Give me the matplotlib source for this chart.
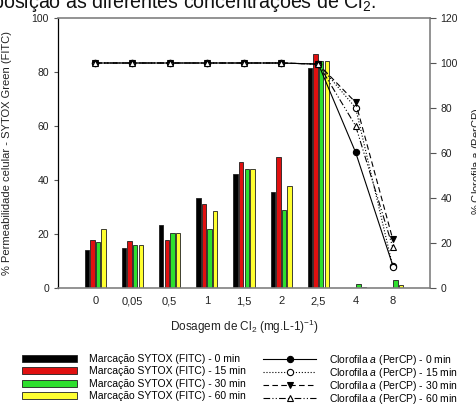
import matplotlib
matplotlib.use("Agg")
import matplotlib.pyplot as plt
import numpy as np
from matplotlib.patches import Patch

plt.rcParams['font.family'] = ['Liberation Sans', 'DejaVu Sans']
plt.rcParams['mathtext.fontset'] = 'custom'
plt.rcParams['mathtext.rm'] = 'Liberation Sans'
plt.rcParams['mathtext.it'] = 'Liberation Sans:italic'

categories = ['0', '0,05', '0,5', '1', '1,5', '2', '2,5', '4', '8']

sytox_0 = [14.2, 14.8, 23.3, 33.2, 42.1, 35.7, 81.4, 0.0, 0.0]
sytox_15 = [17.6, 17.3, 17.7, 31.1, 46.7, 48.6, 86.7, 0.0, 0.0]
sytox_30 = [17.0, 16.0, 20.5, 21.7, 44.1, 28.9, 84.2, 1.3, 3.1]
sytox_60 = [22.0, 16.0, 20.5, 28.5, 44.1, 37.9, 84.2, 0.3, 1.1]

chl_0 = [100, 100, 100, 100, 100, 100, 99.5, 60.3, 10.0]
chl_15 = [100, 100, 100, 100, 100, 100, 99.5, 80.1, 9.5]
chl_30 = [100, 100, 100, 100, 100, 100, 99.5, 82.5, 21.6]
chl_60 = [100, 100, 100, 100, 100, 100, 99.5, 72.1, 18.1]

bar_labels = ['Marcação SYTOX (FITC) - 0 min', 'Marcação SYTOX (FITC) - 15 min',
              'Marcação SYTOX (FITC) - 30 min', 'Marcação SYTOX (FITC) - 60 min']
line_labels = [r'Clorofila $\mathit{a}$ (PerCP) - 0 min', r'Clorofila $\mathit{a}$ (PerCP) - 15 min',
               r'Clorofila $\mathit{a}$ (PerCP) - 30 min', r'Clorofila $\mathit{a}$ (PerCP) - 60 min']

bar_colors = ['#000000', '#e01010', '#2ee02e', '#ffff30']

W, H = 476, 405
fig = plt.figure(figsize=(W / 100, H / 100), dpi=100)
ax = fig.add_axes([58 / W, 1 - 288 / H, (430 - 58) / W, (288 - 18) / H])

x = np.arange(len(categories))
width = 0.12
offsets = [-0.225, -0.075, 0.075, 0.225]
for vals, off, col, lab in zip([sytox_0, sytox_15, sytox_30, sytox_60], offsets, bar_colors, bar_labels):
    ax.bar(x + off, vals, width=width, color=col, edgecolor='#202020', linewidth=0.6, label=lab)

ax.set_xlim(-1, 9)
ax.set_ylim(0, 100)
ax.set_yticks([0, 20, 40, 60, 80, 100])
ax.set_xticks(x)
ax.set_xticklabels(categories)
ax.tick_params(axis='x', length=0, labelsize=8, pad=6, colors='#222222')
ax.tick_params(axis='y', length=3, width=0.8, color='#555555', labelsize=7.5, labelcolor='#222222')
ax.spines['left'].set_color('#000000')
ax.spines['left'].set_linewidth(0.9)
for s in ['top', 'right', 'bottom']:
    ax.spines[s].set_color('#808080')
    ax.spines[s].set_linewidth(1.2)

ax.set_ylabel('% Permeabilidade celular - SYTOX Green (FITC)', fontsize=8, color='#222222')
ax.yaxis.set_label_coords(-(58 - 12) / (430 - 58), 0.5)
ax.set_xlabel(r'Dosagem de Cl$_2$ (mg.L-1)$^{-1}$)', fontsize=8.5, color='#222222', labelpad=8)

ax2 = ax.twinx()
ax2.set_ylim(0, 120)
ax2.set_yticks([0, 20, 40, 60, 80, 100, 120])
ax2.tick_params(axis='y', length=4, width=0.8, color='#555555', labelsize=7.5, labelcolor='#222222')
for s in ['top', 'right', 'bottom', 'left']:
    ax2.spines[s].set_visible(False)

styles = [
    dict(linestyle='-', marker='o', markerfacecolor='black'),
    dict(linestyle=':', marker='o', markerfacecolor='white'),
    dict(linestyle=(0, (5, 3)), marker='v', markerfacecolor='black'),
    dict(linestyle=(0, (6, 2, 1, 2, 1, 2)), marker='^', markerfacecolor='white'),
]
lines = []
for vals, st, lab in zip([chl_0, chl_15, chl_30, chl_60], styles, line_labels):
    l, = ax2.plot(x, vals, color='black', linewidth=0.8, markersize=4.5,
                  markeredgecolor='black', markeredgewidth=0.8, label=lab, **st)
    lines.append(l)

ax2.set_ylabel(r'% Clorofila $\mathit{a}$ (PerCP)', fontsize=8, color='#222222')
ax2.yaxis.set_label_coords(1 + (470 - 430) / (430 - 58), 0.47)

# legends (two columns as separate legends so rows align)
bar_handles = [Patch(facecolor=c, edgecolor='#202020', linewidth=0.6) for c in bar_colors]
fig.legend(bar_handles, bar_labels, loc='upper left', bbox_to_anchor=(22 / W, 1 - 354 / H),
           frameon=False, fontsize=7.5, borderpad=0, borderaxespad=0, handlelength=5.3,
           handleheight=0.7, handletextpad=1.15, labelspacing=0.23)
fig.legend(lines, line_labels, loc='upper left', bbox_to_anchor=(263 / W, 1 - 353 / H),
           frameon=False, fontsize=7.5, borderpad=0, borderaxespad=0, handlelength=5.1,
           handleheight=0.7, handletextpad=1.2, labelspacing=-0.1)

# clipped caption fragment at top
fig.text(376 / W, 1 - 8 / H, r'Figura: exposição as diferentes concentrações de Cl$_2$.',
         ha='right', va='baseline', fontsize=14.1, color='#111111')

fig.savefig('out.png', dpi=100)
